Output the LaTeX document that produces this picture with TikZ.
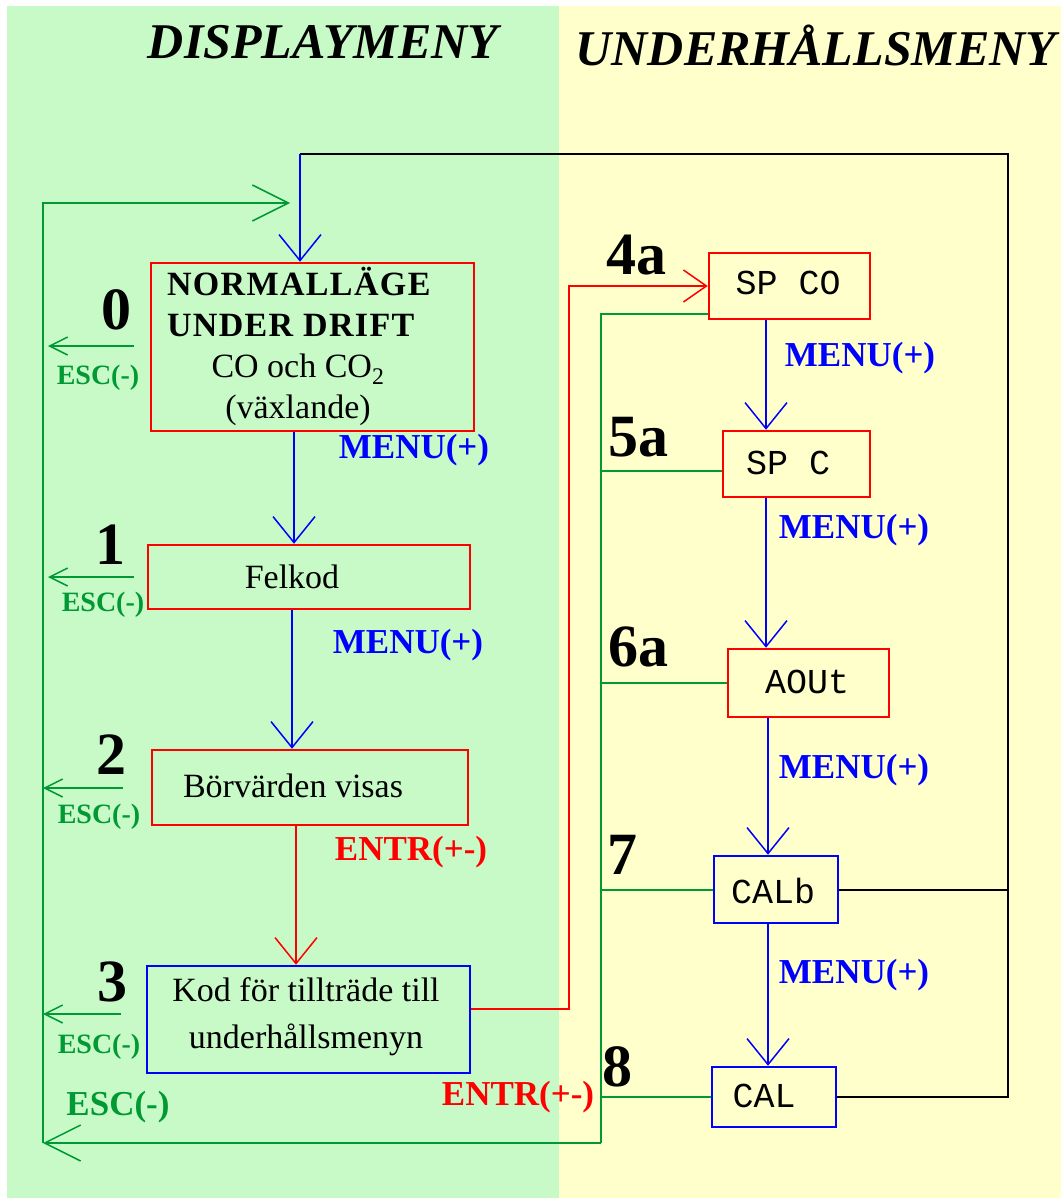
\documentclass[tikz,border=0pt]{standalone}
\usepackage{fontspec}
\setmainfont{Liberation Serif}
\newfontfamily\monofam{Liberation Mono}
\usetikzlibrary{arrows.meta}

\definecolor{bggreen}{RGB}{200,250,200}
\definecolor{bgyellow}{RGB}{255,255,204}
\definecolor{lngreen}{RGB}{0,153,51}

\tikzset{
    redbox/.style={draw=red, line width=2.5pt, inner sep=0pt},
    bluebox/.style={draw=blue, line width=2.5pt, inner sep=0pt},
    boxtext/.style={font=\fontsize{34}{41}\selectfont, align=center, inner sep=0pt},
    monotext/.style={font=\monofam\fontsize{35}{41}\selectfont, inner sep=0pt},
    stepnum/.style={font=\fontsize{60}{60}\selectfont\bfseries, inner sep=0pt},
    keylabel/.style={font=\fontsize{35}{40}\selectfont\bfseries, inner sep=0pt},
    esclabel/.style={font=\fontsize{28}{30}\selectfont\bfseries, text=lngreen, inner sep=0pt},
    title/.style={font=\fontsize{50}{52}\selectfont\bfseries\itshape, inner sep=0pt},
    grnline/.style={draw=lngreen, line width=2pt},
    blueline/.style={draw=blue, line width=2pt},
    redline/.style={draw=red, line width=2pt},
    blackline/.style={draw=black, line width=2pt},
    vtip/.tip={Straight Barb[length=26pt,width=42pt,line width=1.5pt]},
    rtip/.tip={Straight Barb[length=23pt,width=32pt,line width=1.5pt]},
    gtip/.tip={Straight Barb[length=36pt,width=36pt,line width=1.5pt]},
    esctip/.tip={Straight Barb[length=18pt,width=18pt,line width=1.5pt]}
}

\begin{document}
\begin{tikzpicture}[x=1pt,y=-1pt]
    \useasboundingbox (0,0) rectangle (1061,1198);
    % background halves
    \fill[white] (0,0) rectangle (1061,1198);
    \fill[bggreen] (7,6) rectangle (559,1198);
    \fill[bgyellow] (559,6) rectangle (1061,1198);
    \node[title] (disp) at (323,42) {DISPLAYMENY};
    \node[title] (unde) at (816,45) {UNDERHÅLLSMENY};

    % display menu
    \node[redbox, minimum width=323pt, minimum height=168pt] (normal) at (312.5,347) {};
    \node[boxtext] (normalt) at (298,346) {\makebox[262pt][l]{\textbf{\addfontfeatures{LetterSpace=4}NORMALLÄGE}}\\\makebox[262pt][l]{\textbf{\addfontfeatures{LetterSpace=4}UNDER DRIFT}}\\CO och CO\textsubscript{2}\\(växlande)};
    \node[redbox, minimum width=322pt, minimum height=64pt] (felkod) at (309,577) {};
    \node[boxtext] (felkodt) at (292,577) {Felkod};
    \node[redbox, minimum width=316pt, minimum height=75pt] (borv) at (310,787.5) {};
    \node[boxtext] (borvt) at (293,786) {Börvärden visas};
    \node[bluebox, minimum width=323pt, minimum height=107pt] (kod) at (308.5,1019.5) {};
    \node[boxtext, font=\fontsize{34}{47}\selectfont] (kodt) at (306,1017) {Kod för tillträde till\\underhållsmenyn};

    % maintenance menu
    \node[redbox, minimum width=161pt, minimum height=66pt] (spco) at (789.5,286) {};
    \node[monotext] (spcot) at (788,283) {SP CO};
    \node[redbox, minimum width=147pt, minimum height=66pt] (spc) at (796.5,464) {};
    \node[monotext] (spct) at (788,463) {SP C};
    \node[redbox, minimum width=161pt, minimum height=68pt] (aout) at (808.5,683) {};
    \node[monotext] (aoutt) at (807,682) {AOUt};
    \node[bluebox, minimum width=124pt, minimum height=67pt] (calb) at (776,889.5) {};
    \node[monotext] (calbt) at (773,891) {CALb};
    \node[bluebox, minimum width=124pt, minimum height=60pt] (cal) at (774,1097) {};
    \node[monotext] (calt) at (764,1096) {CAL};

    % step numbers
    \node[stepnum] (s0) at (116,310) {0};
    \node[stepnum] (s1) at (110,545) {1};
    \node[stepnum] (s2) at (111,755) {2};
    \node[stepnum] (s3) at (112,982) {3};
    \node[stepnum] (s4) at (636,255) {4a};
    \node[stepnum] (s5) at (638,437) {5a};
    \node[stepnum] (s6) at (638,647) {6a};
    \node[stepnum] (s7) at (622,855) {7};
    \node[stepnum] (s8) at (617,1067) {8};

    % key labels
    \node[keylabel, text=blue] (k1) at (414,450) {MENU(+)};
    \node[keylabel, text=blue] (k2) at (408,645) {MENU(+)};
    \node[keylabel, text=red] (k3) at (411,852) {ENTR(+-)};
    \node[keylabel, text=blue] (k4) at (860,358) {MENU(+)};
    \node[keylabel, text=blue] (k5) at (854,530) {MENU(+)};
    \node[keylabel, text=blue] (k6) at (854,770) {MENU(+)};
    \node[keylabel, text=blue] (k7) at (854,975) {MENU(+)};
    \node[keylabel, text=red] (k8) at (518,1097) {ENTR(+-)};
    \node[esclabel] (esc0) at (98,378) {ESC(-)};
    \node[esclabel] (esc1) at (103,605) {ESC(-)};
    \node[esclabel] (esc2) at (99,817) {ESC(-)};
    \node[esclabel] (esc3) at (99,1047) {ESC(-)};
    \node[keylabel, text=lngreen] (escb) at (118,1107) {ESC(-)};

    % loop points
    \coordinate (topL) at (300,154);
    \coordinate (topR) at (1008,154);
    \coordinate (gBot) at (601,1143);
    \coordinate (gLeft) at (43,1143);
    \coordinate (gTop) at (43,203);
    \coordinate (gTip) at (290,203);

    % forward steps
    \draw[blueline, -{vtip}] ([xshift=-18.5pt]normal.south) -- ([xshift=-18.5pt]normal.south |- felkod.north);
    \draw[blueline, -{vtip}] ([xshift=-17pt]felkod.south) -- ([xshift=-17pt]felkod.south |- borv.north);
    \draw[redline, -{vtip}] ([xshift=-14pt]borv.south) -- ([xshift=-14pt]borv.south |- kod.north);
    \draw[redline, -{rtip}] ([yshift=10.5pt]kod.east) -- ++(98,0) |- (spco.west);
    \draw[blueline, -{vtip}] ([xshift=-23.5pt]spco.south) -- ([xshift=-23.5pt]spco.south |- spc.north);
    \draw[blueline, -{vtip}] ([xshift=-30.5pt]spc.south) -- ([xshift=-30.5pt]spc.south |- aout.north);
    \draw[blueline, -{vtip}] ([xshift=-40.5pt]aout.south) -- ([xshift=-40.5pt]aout.south |- calb.north);
    \draw[blueline, -{vtip}] ([xshift=-8pt]calb.south) -- ([xshift=-8pt]calb.south |- cal.north);

    % back to normal
    \draw[blackline] (cal.east) -- (cal.east -| topR) -- (topR) -- (topL);
    \draw[blackline] (calb.east) -- (calb.east -| topR);
    \draw[blueline, -{vtip}] (topL) -- (normal.north -| topL);

    % escape lines
    \draw[grnline] ([yshift=6pt]spco.south west) -| (gBot);
    \draw[grnline] ([yshift=-7pt]spc.west) -- ([yshift=-7pt]spc.west -| gBot);
    \draw[grnline] (aout.west) -- (aout.west -| gBot);
    \draw[grnline] (calb.west) -- (calb.west -| gBot);
    \draw[grnline] (cal.west) -- (cal.west -| gBot);
    \draw[grnline, -{gtip}] (gBot) -- (gLeft);
    \draw[grnline, -{gtip}] (gLeft) -- (gTop) -- (gTip);
    \coordinate (e0a) at (134,346);
    \coordinate (e0b) at (48,346);
    \coordinate (e1a) at (134,577);
    \coordinate (e1b) at (48,577);
    \coordinate (e2a) at (123,788);
    \coordinate (e2b) at (43,788);
    \coordinate (e3a) at (121,1014);
    \coordinate (e3b) at (43,1014);
    \draw[grnline, -{esctip}] (e0a) -- (e0b);
    \draw[grnline, -{esctip}] (e1a) -- (e1b);
    \draw[grnline, -{esctip}] (e2a) -- (e2b);
    \draw[grnline, -{esctip}] (e3a) -- (e3b);
\end{tikzpicture}
\end{document}
